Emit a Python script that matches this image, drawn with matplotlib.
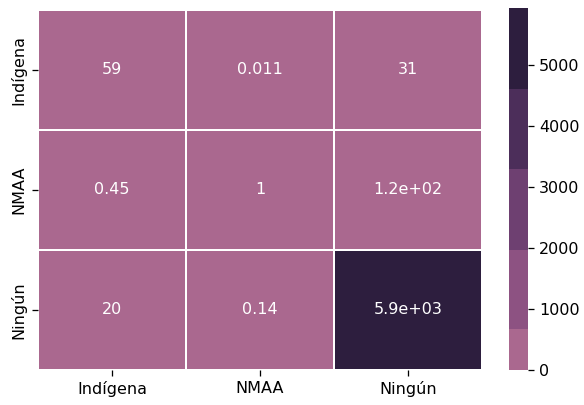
import matplotlib
matplotlib.use("Agg")
import matplotlib.pyplot as plt
import seaborn as sns
import pandas as pd

etiquetas = ['Indígena', 'NMAA', 'Ningún']
fila_indigena = [59, 0.011, 31]
fila_nmaa = [0.45, 1, 120]
fila_ningun = [20, 0.14, 5940]

tabla = pd.DataFrame([fila_indigena, fila_nmaa, fila_ningun],
                     index=etiquetas, columns=etiquetas)

fig = plt.figure(figsize=(584 / 115, 405 / 115), dpi=115)
ax = fig.add_axes([38 / 584, 1 - 370 / 405, 444 / 584, 360 / 405])
cax = fig.add_axes([509 / 584, 1 - 370 / 405, 19 / 584, 362 / 405])

sns.heatmap(tabla, annot=True, cmap=sns.cubehelix_palette(9), center=0, vmin=0,
            linewidths=1, ax=ax, cbar_ax=cax)
ax.set_yticklabels(etiquetas, rotation=90, va='center')
ax.set_xticklabels(etiquetas, rotation=0)

fig.savefig("out.png", dpi=115)
